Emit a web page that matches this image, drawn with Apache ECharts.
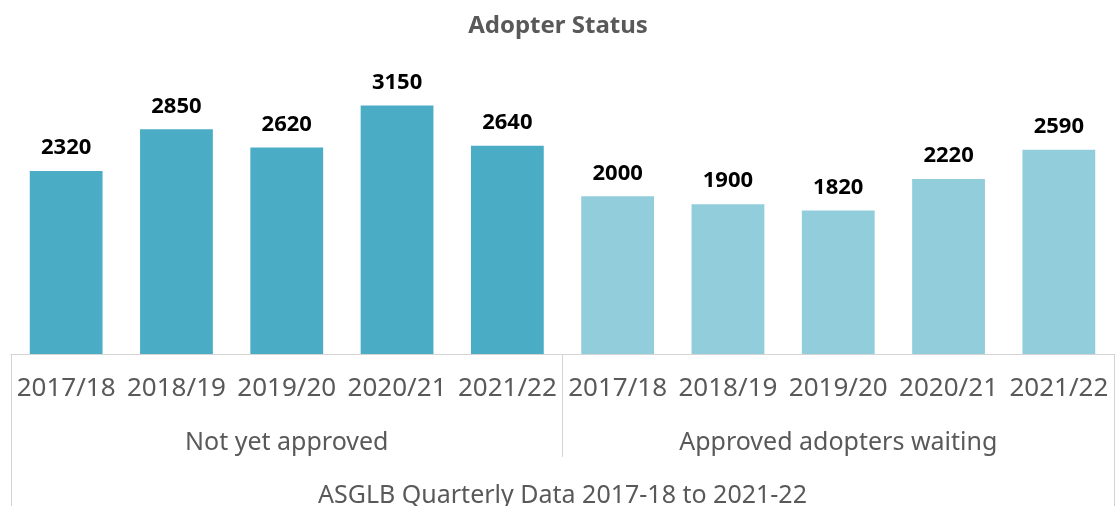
<!DOCTYPE html>
<html>
<head>
<meta charset="utf-8">
<script src="https://cdn.jsdelivr.net/npm/echarts@6/dist/echarts.min.js"></script>
<style>
  html, body { margin: 0; padding: 0; background: #fff; }
  #chart { width: 1116px; height: 506px; }
</style>
</head>
<body>
<div id="chart"></div>
<script>
// 数据
var years = ["2017/18", "2018/19", "2019/20", "2020/21", "2021/22"];
var groups = ["Not yet approved", "Approved adopters waiting"];
var sourceLabel = "ASGLB Quarterly Data 2017-18 to 2021-22";
var notApproved = [2320, 2850, 2620, 3150, 2640];
var approvedWaiting = [2000, 1900, 1820, 2220, 2590];

var categories = years.concat(years);
var gap = years.map(function () { return null; });

var textColor = "#595959";
var lineColor = "#d4d4d4";
var font = "Noto Sans";

var myChart = echarts.init(document.getElementById("chart"));

var labelStyle = {
  show: true,
  position: "top",
  distance: 12,
  color: "#000",
  fontFamily: font,
  fontWeight: "bold",
  fontSize: 22
};

var option = {
  animation: false,
  title: {
    text: "Adopter Status",
    left: "center",
    top: 9,
    textStyle: { color: textColor, fontFamily: font, fontWeight: "bold", fontSize: 24 }
  },
  grid: { left: 11, right: 2, top: 78, bottom: 152, containLabel: false, outerBoundsMode: "none" },
  xAxis: [
    {
      type: "category",
      data: categories,
      position: "bottom",
      axisLine: { show: true, lineStyle: { color: lineColor, width: 1 } },
      axisTick: { show: false },
      axisLabel: { interval: 0, margin: 22, color: textColor, fontFamily: font, fontSize: 26 }
    },
    {
      type: "category",
      data: groups,
      position: "bottom",
      axisLine: { show: false },
      axisTick: { show: true, interval: 0, length: 103, lineStyle: { color: lineColor } },
      axisLabel: { interval: 0, margin: 76, color: textColor, fontFamily: font, fontSize: 25 }
    },
    {
      type: "category",
      data: [sourceLabel],
      position: "bottom",
      axisLine: { show: false },
      axisTick: { show: true, interval: 0, length: 160, lineStyle: { color: lineColor } },
      axisLabel: { interval: 0, margin: 129, color: textColor, fontFamily: font, fontSize: 25 }
    }
  ],
  yAxis: {
    type: "value",
    min: 0,
    max: 3500,
    show: false,
    splitLine: { show: false }
  },
  series: [
    {
      name: "Not yet approved",
      type: "bar",
      stack: "all",
      barWidth: "66%",
      data: notApproved.concat(gap),
      itemStyle: { color: "#4bacc6" },
      label: labelStyle
    },
    {
      name: "Approved adopters waiting",
      type: "bar",
      stack: "all",
      barWidth: "66%",
      data: gap.concat(approvedWaiting),
      itemStyle: { color: "#92cddc" },
      label: labelStyle
    }
  ]
};

myChart.setOption(option);
</script>
</body>
</html>
